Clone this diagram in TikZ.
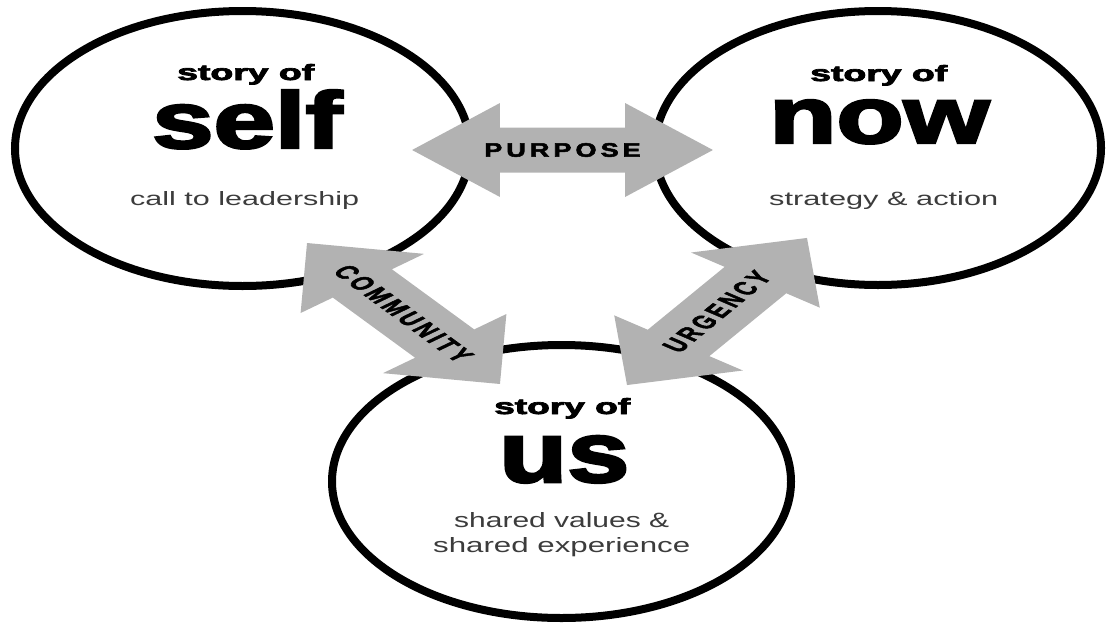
\documentclass[tikz,border=0pt]{standalone}
\usepackage{fontspec}
\usepackage{graphicx}
\setmainfont{Liberation Sans}
\newfontfamily\heavyfont{Liberation Sans}[BoldFeatures={FakeBold=3}]
\newfontfamily\labelfont{Liberation Sans}[BoldFeatures={FakeBold=2.5, LetterSpace=15}]
\definecolor{agray}{RGB}{178,178,178}
\definecolor{subgray}{RGB}{60,60,60}
\newcommand\fitbox[3]{\resizebox{#1pt}{#2pt}{\heavyfont\bfseries #3}}
\newcommand\subfit[3]{\resizebox{#1pt}{#2pt}{\color{subgray}#3}}
\newcommand\bigarrow[4]{%
\begin{scope}[shift={(#1)}, xscale=1.69, rotate=#2, transform shape]
\fill[agray] (-#3,0) -- ({-#3+52},47) -- ({-#3+52},22.5) -- ({#3-52},22.5) -- ({#3-52},47) -- (#3,0) -- ({#3-52},-47) -- ({#3-52},-22.5) -- ({-#3+52},-22.5) -- ({-#3+52},-47) -- cycle;
\node[lbl] (#4lbl) at (0,0) {\scalebox{0.82}[1]{#4}};
\end{scope}}
\usetikzlibrary{shapes.geometric}
\tikzset{
  ell/.style={draw, ellipse, line width=8pt, inner sep=0pt, fill=white},
  txt/.style={inner sep=0pt, anchor=base west},
  lbl/.style={inner sep=0pt, font=\fontsize{19.5pt}{20pt}\selectfont\labelfont\bfseries}
}
\begin{document}
\begin{tikzpicture}[x=1pt,y=-1pt]
\useasboundingbox (0,0) rectangle (1107,624);
% circles
\node[ell, minimum width=455pt, minimum height=275pt] (self) at (242.5,148.5) {};
\node[ell, minimum width=446pt, minimum height=274pt] (now) at (878,148) {};
\node[ell, minimum width=459pt, minimum height=273pt] (us) at (561.5,481.5) {};
% texts: self
\node[txt] (selfhead) at (177,80) {\fitbox{137}{16}{story of}};
\node[txt] (selfword) at (152,148) {\fitbox{190}{58}{self}};
\node[txt] (selfsub) at (130,205) {\subfit{229}{14}{call to leadership}};
% texts: now
\node[txt] (nowhead) at (810,81) {\fitbox{137}{16}{story of}};
\node[txt] (nowword) at (769,143) {\fitbox{220}{43}{now}};
\node[txt] (nowsub) at (769,205) {\subfit{229}{14}{strategy \& action}};
% texts: us
\node[txt] (ushead) at (494,414) {\fitbox{136}{16}{story of}};
\node[txt] (usword) at (499,482) {\fitbox{130}{46}{us}};
\node[txt] (ussub1) at (454,527) {\subfit{215}{15}{shared values \&}};
\node[txt] (ussub2) at (433,552) {\subfit{257}{15}{shared experience}};
% arrows
\coordinate (purpose) at (562.5,150);
\coordinate (community) at (403.5,313.5);
\coordinate (urgency) at (717,311.5);
\bigarrow{purpose}{0}{89}{PURPOSE}
\bigarrow{community}{-51}{90.7}{COMMUNITY}
\bigarrow{urgency}{54.1}{90.8}{URGENCY}
\end{tikzpicture}
\end{document}
